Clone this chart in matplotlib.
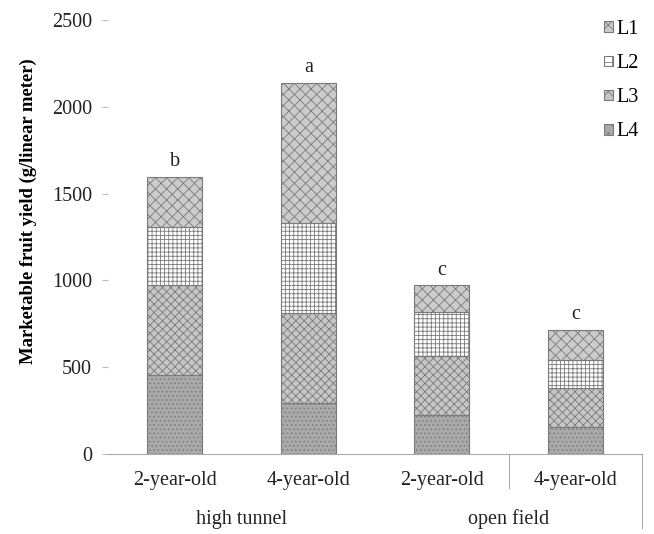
import matplotlib
matplotlib.use("Agg")
import matplotlib.pyplot as plt
import matplotlib.transforms as mtransforms
import numpy as np
from matplotlib.patches import Patch

# Data (g/linear meter), stacked from bottom L4 to top L1
bar_labels = ["2-year-old", "4-year-old", "2-year-old", "4-year-old"]
groups = ["high tunnel", "open field"]
L4 = [455, 294, 225, 156]
L3 = [518, 518, 340, 224]
L2 = [335, 518, 253, 161]
L1 = [288, 807, 155, 173]
letters = ["b", "a", "c", "c"]

plt.rcParams["font.family"] = ["Liberation Serif", "DejaVu Serif"]
plt.rcParams["hatch.linewidth"] = 0.6

fig = plt.figure(figsize=(6.54, 5.34), dpi=100)
ax = fig.add_axes([108 / 654, 80 / 534, 534 / 654, 434 / 534])

x = np.arange(len(bar_labels))
width = 0.41
edge = "#7a7a7a"
txt = "#222222"
fs = 14.5

styles = [
    ("L4", L4, "#a9a9a9", "...."),
    ("L3", L3, "#c6c6c6", "xxxx"),
    ("L2", L2, "#ffffff", "++++"),
    ("L1", L1, "#cbcbcb", "xxx"),
]

bottom = np.zeros(len(x))
handles = {}
for name, vals, fc, hatch in styles:
    vals = np.array(vals, dtype=float)
    ax.bar(x, vals, width, bottom=bottom, color=fc, edgecolor=edge,
           hatch=hatch, linewidth=0.8)
    handles[name] = Patch(facecolor=fc, edgecolor=edge, hatch=hatch[:2], linewidth=0.8)
    bottom += vals

# significance letters
for xi, top, lt in zip(x, bottom, letters):
    ax.annotate(lt, (xi, top), xytext=(0, 4), textcoords="offset points",
                ha="center", va="bottom", fontsize=fs, color=txt)

ax.set_xlim(-0.5, 3.5)
ax.set_ylim(0, 2500)
ax.set_yticks([0, 500, 1000, 1500, 2000, 2500])
ax.tick_params(axis="y", labelsize=fs, length=4, color="#bbbbbb",
               labelcolor=txt, pad=7.5)
ax.set_xticks(x)
ax.set_xticklabels(bar_labels, fontsize=fs, color=txt)
ax.tick_params(axis="x", length=0, pad=12)

for s in ["top", "right", "left"]:
    ax.spines[s].set_visible(False)
ax.spines["bottom"].set_color("#aaaaaa")

# category separators below the axis
trans = mtransforms.blended_transform_factory(ax.transData, ax.transAxes)
ax.plot([2.5, 2.5], [0, -0.078], color="#aaaaaa", lw=0.8,
        transform=trans, clip_on=False)
ax.plot([3.5, 3.5], [0, -0.17], color="#aaaaaa", lw=0.8,
        transform=trans, clip_on=False)

ax.text(0.5, -0.15, groups[0], transform=trans, ha="center", va="center",
        fontsize=fs, color=txt)
ax.text(2.5, -0.15, groups[1], transform=trans, ha="center", va="center",
        fontsize=fs, color=txt)

fig.text(28 / 654, 1 - 211 / 534, "Marketable fruit yield (g/linear meter)",
         rotation=90, ha="center", va="center", fontsize=13.4, fontweight="bold")

ax.legend([handles[k] for k in ["L1", "L2", "L3", "L4"]],
          ["L1", "L2", "L3", "L4"], loc="upper left",
          bbox_to_anchor=(604 / 654, 1 - 20 / 534), bbox_transform=fig.transFigure,
          frameon=False, fontsize=fs, borderpad=0, borderaxespad=0,
          handlelength=0.45, handleheight=0.45, handletextpad=0.15,
          labelspacing=0.75)

fig.savefig("out.png", dpi=100)
